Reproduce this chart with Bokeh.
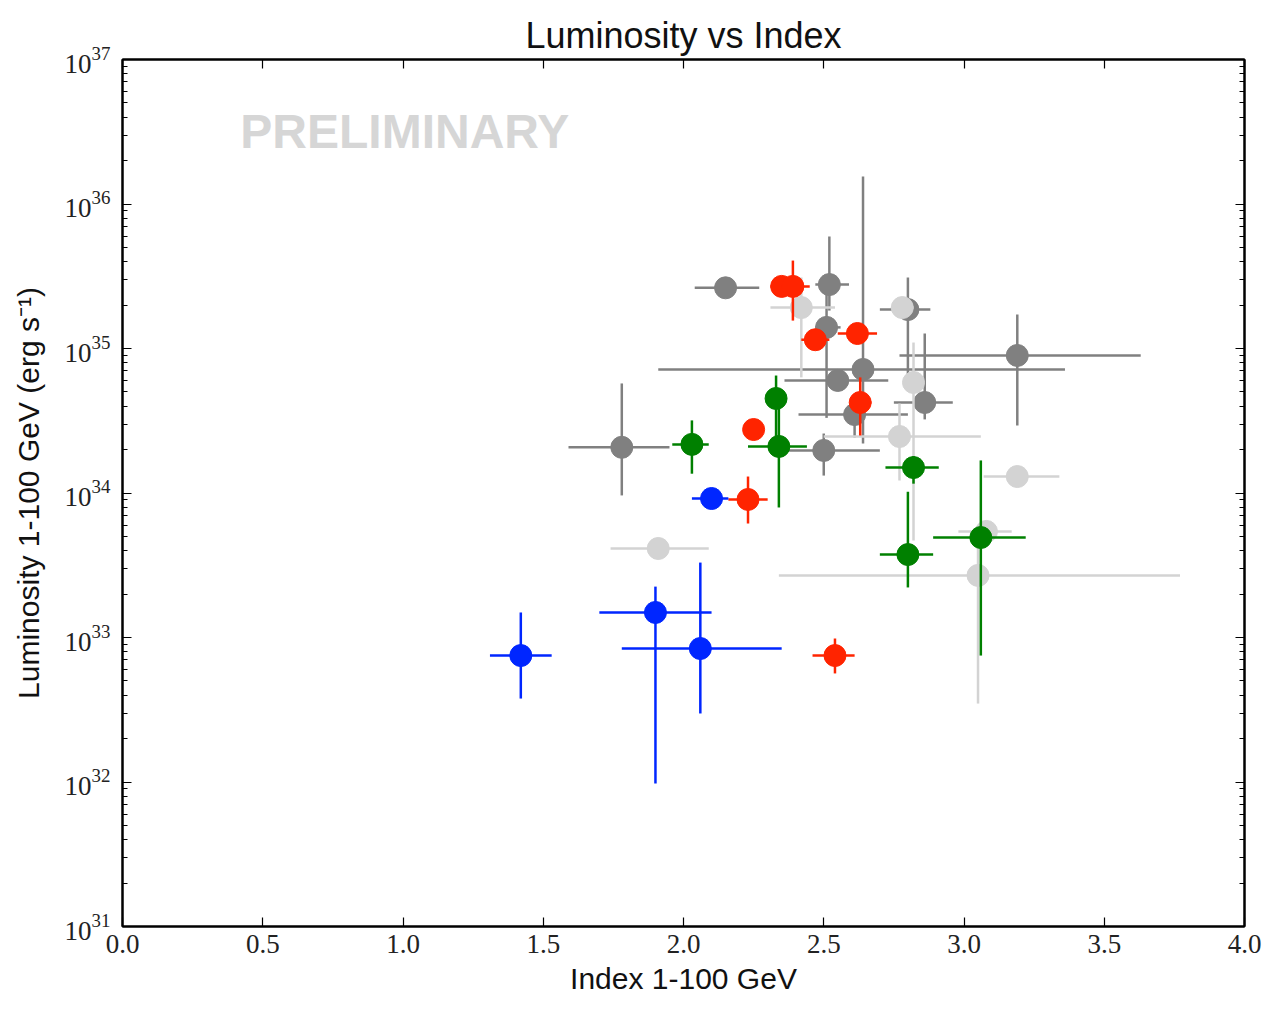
from bokeh.plotting import figure
from bokeh.models import (Range1d, LogAxis, LinearAxis, Label, SingleIntervalTicker,
                          LogTicker, ColumnDataSource, PrintfTickFormatter,
                          CustomJSTickFormatter)
from bokeh.embed import file_html
from bokeh.resources import INLINE

# ---- sources, grouped by colour: index (1-100 GeV) and luminosity (erg/s) ----
grey_idx = [2.15, 2.52, 2.51, 2.64, 2.55, 3.19, 2.86, 2.61, 2.50, 1.78, 2.80]
grey_idx_lo = [2.04, 2.47, 2.47, 1.91, 2.36, 2.77, 2.75, 2.41, 2.36, 1.59, 2.70]
grey_idx_hi = [2.27, 2.59, 2.56, 3.36, 2.73, 3.63, 2.96, 2.80, 2.70, 1.95, 2.88]
grey_lum = [2.63e35, 2.77e35, 1.40e35, 7.16e34, 6.01e34, 8.95e34, 4.23e34, 3.49e34, 1.97e34, 2.07e34, 1.86e35]
grey_lum_lo = [2.45e35, 1.83e35, 3.31e34, 2.20e34, 5.6e34, 2.93e34, 3.23e34, 2.42e34, 1.32e34, 9.62e33, 6.31e34]
grey_lum_hi = [2.85e35, 5.96e35, 2.51e35, 1.55e36, 6.4e34, 1.72e35, 1.27e35, 4.73e34, 2.58e34, 5.73e34, 3.10e35]

light_idx = [2.42, 2.78, 2.82, 2.77, 3.19, 3.08, 3.05, 1.91]
light_idx_lo = [2.31, 2.74, 2.79, 2.50, 3.07, 2.98, 2.34, 1.74]
light_idx_hi = [2.54, 2.82, 2.85, 3.06, 3.34, 3.17, 3.77, 2.09]
light_lum = [1.92e35, 1.92e35, 5.82e34, 2.46e34, 1.30e34, 5.42e33, 2.69e33, 4.13e33]
light_lum_lo = [6.31e34, 1.75e35, 4.69e33, 1.22e34, 1.25e34, 5.1e33, 3.49e32, 3.9e33]
light_lum_hi = [3.10e35, 2.1e35, 1.10e35, 4.16e34, 1.35e34, 5.8e33, 4.69e33, 4.4e33]

red_idx = [2.35, 2.39, 2.47, 2.62, 2.63, 2.25, 2.23, 2.54]
red_idx_lo = [2.34, 2.31, 2.42, 2.55, 2.60, 2.24, 2.16, 2.46]
red_idx_hi = [2.36, 2.45, 2.52, 2.69, 2.67, 2.26, 2.30, 2.61]
red_lum = [2.69e35, 2.69e35, 1.15e35, 1.27e35, 4.23e34, 2.75e34, 9.02e33, 7.50e32]
red_lum_lo = [2.6e35, 1.56e35, 1.1e35, 1.2e35, 2.50e34, 2.7e34, 6.15e33, 5.64e32]
red_lum_hi = [2.8e35, 4.06e35, 1.2e35, 1.35e35, 6.31e34, 2.8e34, 1.3e34, 9.84e32]

green_idx = [2.33, 2.34, 2.03, 2.82, 2.80, 3.06]
green_idx_lo = [2.31, 2.23, 1.96, 2.72, 2.70, 2.89]
green_idx_hi = [2.35, 2.44, 2.09, 2.91, 2.89, 3.22]
green_lum = [4.51e34, 2.10e34, 2.17e34, 1.50e34, 3.75e33, 4.92e33]
green_lum_lo = [2.1e34, 7.94e33, 1.36e34, 1.16e34, 2.22e33, 7.50e32]
green_lum_hi = [6.50e34, 4.51e34, 3.18e34, 1.8e34, 1.02e34, 1.68e34]

blue_idx = [2.10, 1.42, 1.90, 2.06]
blue_idx_lo = [2.03, 1.31, 1.70, 1.78]
blue_idx_hi = [2.16, 1.53, 2.10, 2.35]
blue_lum = [9.16e33, 7.50e32, 1.49e33, 8.39e32]
blue_lum_lo = [8.9e33, 3.78e32, 9.77e31, 2.98e32]
blue_lum_hi = [9.4e33, 1.49e33, 2.25e33, 3.30e33]

groups = [
    ("#808080", grey_idx, grey_idx_lo, grey_idx_hi, grey_lum, grey_lum_lo, grey_lum_hi),
    ("#d3d3d3", light_idx, light_idx_lo, light_idx_hi, light_lum, light_lum_lo, light_lum_hi),
    ("#ff2400", red_idx, red_idx_lo, red_idx_hi, red_lum, red_lum_lo, red_lum_hi),
    ("#008000", green_idx, green_idx_lo, green_idx_hi, green_lum, green_lum_lo, green_lum_hi),
    ("#0026ff", blue_idx, blue_idx_lo, blue_idx_hi, blue_lum, blue_lum_lo, blue_lum_hi),
]

SANS = "Liberation Sans"
SERIF = "Liberation Serif"

p = figure(width=1272, height=1010,
           x_range=Range1d(0, 4), y_range=Range1d(1e31, 1e37),
           y_axis_type="log", output_backend="svg", toolbar_location=None,
           min_border_left=122, min_border_right=28,
           min_border_top=59, min_border_bottom=84,
           title="Luminosity vs Index")

p.background_fill_color = "white"
p.border_fill_color = "white"
p.grid.visible = False
p.outline_line_color = "black"
p.outline_line_width = 2

p.title.align = "center"
p.title.text_font = SANS
p.title.text_font_size = "36px"
p.title.text_font_style = "normal"
p.title.text_color = "#111111"
p.title.standoff = 7

# bottom axis
xa = p.xaxis[0]
xa.ticker = SingleIntervalTicker(interval=0.5)
xa.formatter = PrintfTickFormatter(format="%.1f")
xa.axis_label = "Index 1-100 GeV"

# left axis
ya = p.yaxis[0]
ya.ticker = LogTicker(num_minor_ticks=10)
ya.axis_label = "Luminosity 1-100 GeV (erg s\u207b\u00b9)"

# frame-matching axes on top and right: ticks only, blank labels
blank = CustomJSTickFormatter(code="return '';")
top = LinearAxis(ticker=SingleIntervalTicker(interval=0.5), formatter=blank,
                 major_label_standoff=0)
right = LogAxis(ticker=LogTicker(num_minor_ticks=10), formatter=blank,
                major_label_standoff=0)
p.add_layout(top, "above")
p.add_layout(right, "right")

for ax in (xa, ya, top, right):
    ax.axis_line_color = "black"
    ax.axis_line_width = 2
    ax.major_tick_in = 9
    ax.major_tick_out = 0
    ax.minor_tick_in = 5
    ax.minor_tick_out = 0
    ax.major_tick_line_width = 1.2
    ax.minor_tick_line_width = 1.2
    ax.major_label_text_font = SERIF
    ax.major_label_text_font_size = "27px"
    ax.major_label_text_color = "#222222"
    ax.axis_label_text_font = SANS
    ax.axis_label_text_font_size = "30px"
    ax.axis_label_text_font_style = "normal"
    ax.axis_label_text_color = "#111111"

for ax in (xa, top):
    ax.minor_tick_line_color = None

xa.major_label_standoff = 8
xa.axis_label_standoff = 6
ya.major_label_standoff = 12
ya.axis_label_standoff = 17

p.add_layout(Label(x=0.42, y=3.2e36, text="PRELIMINARY",
                   text_font=SANS, text_font_style="bold",
                   text_font_size="48px", text_color="#d6d6d6",
                   text_baseline="alphabetic"))

for color, ix, ixl, ixh, lum, lum_lo, lum_hi in groups:
    src = ColumnDataSource(dict(x=ix, xl=ixl, xh=ixh, y=lum, yl=lum_lo, yh=lum_hi))
    p.segment(x0="xl", x1="xh", y0="y", y1="y", source=src,
              line_color=color, line_width=2.5)
    p.segment(x0="x", x1="x", y0="yl", y1="yh", source=src,
              line_color=color, line_width=2.5)
    p.scatter(x="x", y="y", source=src, size=22, marker="circle",
              fill_color=color, line_color=color, line_width=1)

open("out.html", "w").write(file_html(p, INLINE))
